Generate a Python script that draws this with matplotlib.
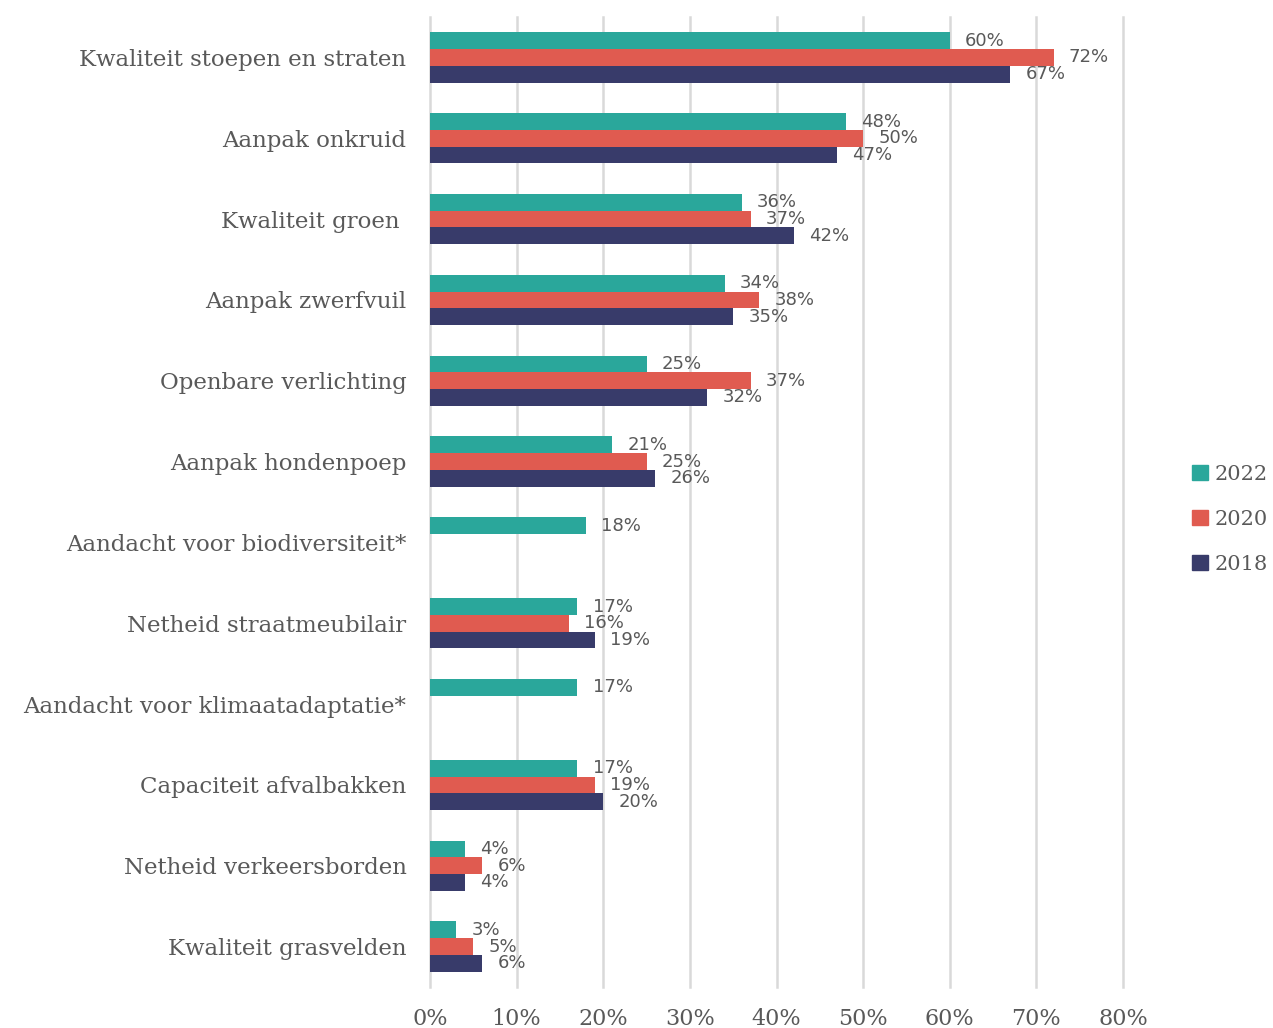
import numpy as np
import matplotlib.pyplot as plt
from matplotlib.patches import Patch

categories = ['Kwaliteit stoepen en straten', 'Aanpak onkruid', 'Kwaliteit groen ',
              'Aanpak zwerfvuil', 'Openbare verlichting', 'Aanpak hondenpoep',
              'Aandacht voor biodiversiteit*', 'Netheid straatmeubilair',
              'Aandacht voor klimaatadaptatie*', 'Capaciteit afvalbakken',
              'Netheid verkeersborden', 'Kwaliteit grasvelden']
v2022 = [60, 48, 36, 34, 25, 21, 18, 17, 17, 17, 4, 3]
v2020 = [72, 50, 37, 38, 37, 25, None, 16, None, 19, 6, 5]
v2018 = [67, 47, 42, 35, 32, 26, None, 19, None, 20, 4, 6]
years = ['2022', '2020', '2018']
colors = ['#2aa79b', '#e05b50', '#383b6a']
xticks = [0, 10, 20, 30, 40, 50, 60, 70, 80]

txt = '#595959'
serif = ['DejaVu Serif']

fig = plt.figure(figsize=(12.73, 10.28), dpi=100)
ax = fig.add_axes([430/1273, 1-987/1028, (1123-430)/1273, 970/1028])

y = np.arange(len(categories))
h = 0.207
for i, (vals, c) in enumerate(zip([v2022, v2020, v2018], colors)):
    for j, v in enumerate(vals):
        if v is None:
            continue
        yy = y[j] + (i - 1) * h
        ax.barh(yy, v, height=h, color=c, zorder=3)
        ax.annotate(f'{v}%', (v, yy), xytext=(11, 0), textcoords='offset points',
                    va='center', ha='left', fontsize=13, color=txt,
                    family='DejaVu Sans', zorder=4)

ax.set_xlim(0, 80)
ax.set_ylim(len(categories) - 0.5, -0.5)
ax.set_xticks(xticks)
ax.set_xticklabels([f'{t}%' for t in xticks], family=serif, fontsize=16, color=txt)
ax.set_yticks(y)
ax.set_yticklabels(categories, family=serif, fontsize=16.5, color=txt)
ax.tick_params(length=0)
ax.tick_params(axis='y', pad=17)
ax.tick_params(axis='x', pad=15)
ax.grid(axis='x', color='#d9d9d9', lw=1.8, zorder=0)
for gl in ax.xaxis.get_gridlines():
    gl.set_clip_on(False)
for s in ax.spines.values():
    s.set_visible(False)

handles = [Patch(color=c, label=l) for c, l in zip(colors, years)]
fig.legend(handles=handles, loc='center left', bbox_to_anchor=(1192/1273, 0.495),
           frameon=False, handlelength=0.75, handleheight=0.75, handletextpad=0.35,
           borderpad=0, borderaxespad=0, labelspacing=1.25,
           prop={'family': serif, 'size': 15}, labelcolor=txt)

fig.savefig('out.png', dpi=100)
